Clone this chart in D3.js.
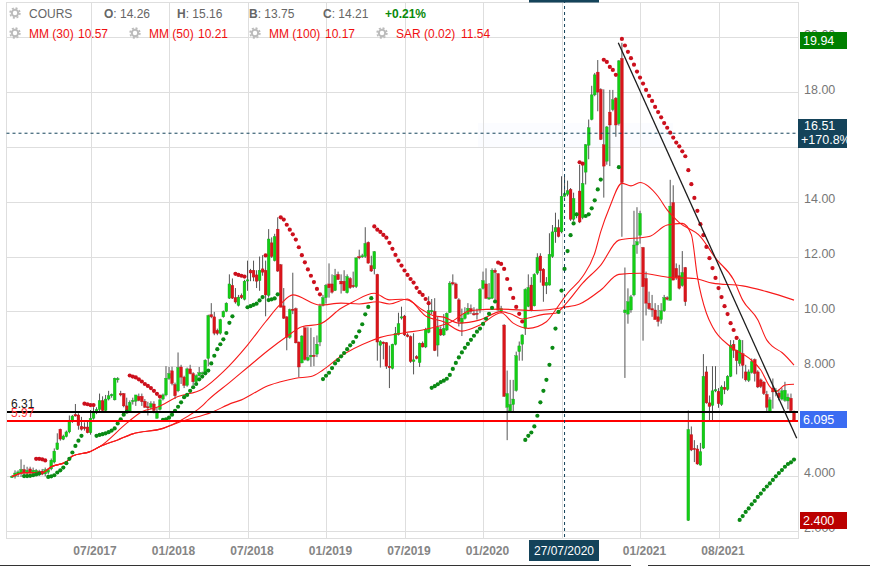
<!DOCTYPE html>
<html><head><meta charset="utf-8">
<script src="https://cdn.jsdelivr.net/npm/d3@7"></script>
<style>
html,body{margin:0;padding:0;background:#fff}
svg{display:block}
text{font-family:"Liberation Sans",Arial,sans-serif}
</style></head><body>
<svg id="c" width="870" height="566"></svg>
<script>
const opens=[3.96,3.98,4.06,4.1,4.23,4.1,4.25,4.1,4.1,4.16,
4.17,4.07,4.13,4.25,4.5,4.96,5.7,5.33,5.43,5.6,
5.97,6.24,6.22,5.8,5.78,5.78,5.57,6.1,6.3,6.42,
6.74,6.38,6.8,6.92,6.77,7.5,7.0,7.0,6.55,6.35,
6.72,6.72,6.9,6.9,6.72,6.52,6.5,6.62,6.1,6.42,
6.8,6.95,7.55,7.83,7.33,7.1,7.97,7.6,7.3,7.9,
7.73,7.43,7.65,7.72,7.71,8.28,9.88,9.8,9.31,9.2,
9.8,10.0,10.48,10.95,10.5,10.22,10.58,10.44,11.12,11.5,
11.5,11.33,11.12,11.55,11.5,10.58,12.5,11.85,13.0,11.7,
10.2,9.8,9.05,10.08,10.1,8.88,8.12,9.4,8.22,8.34,
8.4,8.44,8.88,10.22,10.5,11.0,11.0,10.76,11.35,11.1,
11.1,10.68,11.2,10.95,10.9,12.0,12.0,12.0,12.52,11.67,
11.55,11.35,8.76,8.88,8.86,8.0,7.92,8.8,9.15,9.77,
9.83,9.14,9.08,8.17,8.35,8.13,8.84,8.7,9.23,10.0,
10.0,8.77,9.35,9.14,9.32,9.96,11.05,11.0,10.42,9.57,
9.74,9.9,10.1,9.92,9.93,10.05,10.84,11.0,10.45,10.48,
11.5,11.37,10.0,9.5,6.5,6.37,6.6,7.11,8.53,8.8,
9.38,10.18,10.96,10.2,11.39,12.02,11.54,10.94,10.96,12.0,
12.9,13.05,12.9,14.2,14.27,14.45,13.36,13.5,14.39,13.42,
15.08,16.06,17.0,17.9,18.73,18.1,16.08,15.48,17.27,17.36,
17.78,16.85,19.23,9.95,9.9,10.05,10.6,12.42,12.78,12.33,
11.2,10.3,10.1,10.05,9.8,9.7,10.02,10.5,10.4,13.97,
11.57,11.3,10.94,11.6,2.37,5.5,5.0,4.98,4.39,5.01,
7.79,6.66,6.57,7.1,7.08,6.6,7.23,7.15,7.63,8.8,
8.58,8.1,8.46,7.79,7.48,7.77,8.24,7.79,7.5,7.42,
6.97,6.32,7.2,7.08,7.02,6.8,6.75,6.73,6.83,6.3];
const highs=[4.02,4.2,4.2,4.6,4.4,4.33,4.33,4.3,4.25,4.22,
4.25,4.3,4.27,4.63,5.0,5.55,5.72,5.5,5.65,6.2,
6.22,6.62,6.28,6.15,5.95,5.97,6.4,6.5,6.5,7.0,
6.9,6.95,7.1,7.0,7.58,7.6,7.1,7.02,6.85,6.75,
6.85,6.95,7.0,7.0,6.8,6.7,6.72,6.72,6.5,6.82,
7.0,8.0,7.97,7.98,7.4,8.5,8.05,7.65,7.95,8.05,
7.78,7.7,7.97,7.8,8.25,9.88,10.3,9.98,9.37,9.73,
10.03,10.33,11.35,11.2,10.85,10.6,10.65,11.15,11.85,11.55,
11.85,11.5,12.0,12.05,11.85,13.0,12.7,12.83,13.43,11.73,
10.85,9.82,10.1,11.41,10.14,8.9,9.13,9.42,9.42,9.4,
9.06,9.12,10.28,10.6,11.0,11.75,11.35,11.55,11.45,11.35,
11.5,11.35,11.25,11.45,11.97,12.25,12.1,13.07,12.55,12.03,
12.2,11.37,8.95,8.9,8.88,8.75,8.82,9.43,9.95,10.17,
9.87,9.2,9.12,9.2,8.4,8.86,8.9,9.4,10.55,10.45,
10.48,9.8,9.45,9.9,9.96,11.1,11.35,11.05,10.48,10.1,
10.15,10.3,10.25,10.15,10.1,10.85,11.45,11.57,11.03,11.57,
11.57,11.4,10.2,9.53,7.84,7.5,7.5,8.53,8.9,9.16,
10.84,11.35,11.25,11.39,12.12,12.12,11.58,11.25,12.85,13.15,
13.6,13.35,14.93,14.93,14.77,14.5,14.33,13.6,15.35,15.42,
16.1,17.0,18.23,18.7,19.17,18.14,18.1,16.76,18.08,18.08,
17.82,19.17,19.8,11.6,10.84,10.6,13.67,13.8,13.67,12.35,
11.45,10.72,10.6,10.3,10.23,10.3,10.6,10.55,14.8,14.6,
11.75,11.7,12.2,11.62,6.38,5.8,5.3,5.12,5.2,8.44,
8.0,6.93,8.0,8.0,7.2,7.3,7.45,7.67,8.95,8.95,
8.6,9.0,8.95,8.05,7.88,8.28,8.28,7.85,7.55,7.45,
7.1,6.87,7.55,7.2,7.15,7.2,7.43,7.0,7.0,6.38];
const lows=[3.92,3.9,3.96,3.96,4.05,3.98,4.08,4.02,4.02,4.0,
4.02,3.98,4.05,4.2,4.45,4.94,5.28,5.3,5.4,5.55,
5.93,6.16,5.68,5.65,5.65,5.55,5.5,6.05,6.25,6.35,
6.33,6.33,6.75,6.85,6.75,7.4,6.9,6.5,6.3,6.3,
6.6,6.55,6.72,6.55,6.48,6.2,6.42,6.28,6.08,6.38,
6.75,6.9,7.5,7.3,6.8,7.05,7.35,7.2,7.25,7.7,
7.3,7.38,7.62,7.68,7.68,8.0,9.75,9.13,9.13,9.15,
9.77,9.97,10.45,10.45,10.28,10.18,10.45,10.4,10.75,11.1,
11.1,10.85,10.75,11.3,9.82,10.5,11.95,11.82,11.44,10.15,
9.72,8.58,9.0,9.9,8.83,7.6,8.1,8.2,8.18,7.98,
8.0,8.33,8.73,10.18,10.28,10.5,10.65,10.74,11.15,10.65,
10.74,10.65,10.82,10.85,10.85,11.9,11.95,11.95,11.74,11.44,
11.35,8.2,7.95,8.25,7.9,7.2,7.88,8.76,9.12,9.7,
9.1,9.05,8.12,7.7,8.25,7.97,8.68,8.66,9.2,9.9,
8.55,8.35,9.1,9.1,9.28,9.94,10.95,10.45,9.45,9.1,
9.7,9.88,9.9,9.85,9.7,9.93,10.8,10.45,10.42,10.45,
10.3,10.0,9.93,6.88,5.3,6.33,6.35,7.07,8.2,8.2,
9.14,10.15,10.0,10.18,11.33,11.05,10.35,10.63,10.94,11.95,
12.5,12.7,12.85,14.15,14.2,13.3,13.3,13.4,13.22,13.36,
14.63,15.55,16.97,17.85,17.3,16.25,14.15,15.35,15.3,17.3,
16.37,16.78,12.72,7.57,9.55,9.95,10.55,12.1,12.47,8.93,
9.85,10.05,9.8,9.7,9.45,9.55,9.98,10.4,10.4,11.14,
11.15,10.8,10.9,10.2,2.35,4.9,4.5,4.4,4.37,4.98,
6.63,6.03,6.03,7.05,6.48,6.55,6.98,7.1,7.6,8.3,
7.7,8.0,7.55,7.44,7.42,7.73,7.44,7.2,7.2,6.95,
6.33,6.32,6.45,6.9,6.75,6.75,6.7,6.43,6.32,6.0];
const closes=[3.98,4.1,4.14,4.23,4.11,4.2,4.12,4.2,4.2,4.07,
4.06,4.22,4.23,4.57,4.9,5.2,5.34,5.45,5.6,5.97,
6.18,6.18,5.83,5.7,5.72,5.57,6.1,6.3,6.42,6.74,
6.38,6.8,6.92,6.97,7.56,7.55,6.95,6.55,6.35,6.68,
6.75,6.95,6.75,6.7,6.5,6.48,6.63,6.38,6.3,6.77,
6.95,7.56,7.73,7.37,6.92,7.95,7.6,7.3,7.9,7.73,
7.43,7.65,7.76,7.76,8.22,9.85,9.8,9.2,9.19,9.7,
10.0,10.3,11.0,10.48,10.34,10.52,10.5,11.1,11.15,11.4,
11.25,11.1,11.5,11.43,10.6,12.64,12.0,12.73,11.47,10.15,
9.75,9.05,10.06,10.03,8.85,7.97,9.1,8.24,8.32,8.4,
8.35,8.8,10.2,10.5,10.95,10.86,10.7,11.3,11.16,11.0,
10.76,11.27,10.86,10.9,11.95,11.95,12.03,12.48,11.76,11.47,
12.18,8.88,8.9,8.82,8.0,7.94,8.8,9.2,9.55,9.8,
9.14,9.08,8.17,8.23,8.28,8.84,8.7,9.35,10.03,10.03,
8.57,9.42,9.14,9.38,9.93,11.03,11.0,10.48,9.63,9.75,
9.93,10.11,10.0,9.87,9.9,10.8,11.12,10.48,10.5,11.5,
11.42,10.05,10.1,6.9,7.0,6.6,6.8,8.38,8.74,9.14,
10.8,10.87,10.05,11.35,11.97,11.48,10.94,11.06,12.08,12.9,
13.05,12.73,14.2,14.3,14.4,13.36,14.12,13.55,13.26,14.67,
16.08,16.7,17.9,18.63,18.0,16.27,15.3,16.73,16.8,17.72,
16.8,19.14,14.7,10.05,10.35,10.53,12.42,12.54,13.57,10.9,
10.3,10.1,10.05,9.7,9.63,10.02,10.5,10.44,13.84,11.14,
11.24,10.84,11.42,10.35,5.69,4.94,4.97,4.43,4.88,7.63,
6.66,6.53,7.1,7.14,6.63,7.24,7.15,7.63,8.77,8.58,
8.2,8.95,8.03,7.5,7.79,8.16,7.73,7.24,7.26,7.0,
6.5,6.77,7.06,7.12,6.85,7.1,7.12,6.87,6.38,6.04];

// moving averages: [week index, price]
const mm30=[[0,3.97],[4,4.11],[10,4.11],[13,4.33],[18,4.51],[20,4.72],[26,4.89],[29,5.06],[38,5.92],[43,6.34],[48,6.5],[55,6.89],[63,7.16],[70,7.8],[78,8.77],[84,9.62],[89,10.27],[93,10.6],[102,10.23],[109,10.3],[115,10.27],[121,10.35],[125,10.27],[131,10.45],[135,10.05],[137,9.83],[143,9.62],[149,9.28],[155,9.5],[162,9.95],[166,9.57],[171,9.38],[177,9.62],[180,10.05],[184,10.66],[189,11.27],[193,12.12],[195,12.91],[198,13.82],[202,14.67],[205,14.58],[208,14.7],[214,14.19],[217,13.7],[221,13.24],[228,12.73],[233,11.94],[239,11.15],[242,10.41],[247,9.69],[250,8.95],[252,8.71],[255,8.5],[259,8.04]];
const mm50=[[0,3.97],[4,4.11],[10,4.11],[13,4.33],[18,4.51],[20,4.72],[26,4.89],[29,5.06],[35,5.31],[40,5.53],[50,5.73],[56,6.03],[63,6.55],[65,6.77],[72,7.4],[78,7.95],[85,8.59],[91,9.08],[96,9.44],[102,9.54],[109,10.11],[113,10.35],[120,10.66],[125,10.42],[129,10.44],[131,10.42],[136,10.05],[140,9.83],[143,9.79],[148,9.57],[155,9.69],[162,9.99],[166,9.87],[169,9.72],[176,9.89],[180,9.93],[184,10.35],[189,11.03],[195,11.69],[201,12.6],[211,12.73],[217,13.15],[222,13.21],[225,12.8],[227,11.27],[230,9.93],[232,9.44],[238,8.71],[244,8.3],[248,7.86],[251,7.25],[253,7.07],[256,7.31],[259,7.34]];
const mm100=[[0,3.97],[4,4.11],[10,4.11],[13,4.33],[18,4.51],[20,4.72],[26,4.89],[29,5.06],[35,5.31],[40,5.53],[50,5.73],[56,5.98],[66,6.31],[73,6.66],[76,6.77],[81,7.07],[84,7.25],[89,7.43],[94,7.56],[99,7.62],[103,7.86],[109,8.37],[119,8.93],[122,9.05],[130,9.22],[136,9.32],[145,9.59],[152,10.03],[162,10.08],[173,10.03],[183,10.15],[188,10.27],[195,10.78],[201,11.35],[208,11.39],[218,11.24],[226,11.2],[232,11.03],[242,10.93],[250,10.72],[259,10.41]];

// parabolic SAR runs: [first week index, prices]
const sarGreen=[[4,[3.99,3.99,4.0,4.02,4.05,4.08]],
[12,[3.96,3.98,4.02,4.12,4.2,4.3,4.46,4.62,4.85,5.09,5.28,5.46]],
[28,[5.46,5.49,5.52,5.55,5.59,5.65,5.73,5.91,6.06,6.23,6.34]],
[50,[6.04,6.06,6.12,6.23,6.37,6.52,6.68,6.87,6.95,7.1,7.23,7.35,7.52,7.62,7.74,7.84,8.1,8.38,8.62,8.8,8.98,9.21,9.58,9.82]],
[78,[10.15,10.19,10.24,10.28,10.4,10.52]],
[85,[10.41,10.44,10.47,10.62]],
[103,[7.53,7.65,7.76,7.93,8.1,8.22,8.36,8.48,8.62,8.76,8.88,9.07,9.27,9.53,9.89,10.16,10.48]],
[139,[7.21,7.27,7.34,7.42,7.47,7.54,7.68,7.9,8.12,8.32,8.5,8.67,8.81,8.96,9.11,9.26,9.37,9.54,9.73,9.91,10.13,10.36]],
[170,[5.31,5.46,5.58,5.8,6.19,6.68,7.1,7.5,8.05,8.67,9.37,9.98,10.76,11.55,12.2,12.78,13.21,13.54]],
[190,[13.48,13.54,13.76,14.05,14.45,14.81]],
[201,[15.26]],
[241,[2.39,2.53,2.68,2.81,2.96,3.08,3.23,3.35,3.49,3.61,3.72,3.85,3.98,4.1,4.21,4.33,4.43,4.49,4.59]]];
const sarRed=[[8,[4.62,4.62,4.6,4.56]],
[24,[6.63,6.61,6.58,6.58]],
[39,[7.66,7.62,7.59,7.52,7.44,7.35,7.28,7.2,7.1,6.99,6.89]],
[74,[11.37,11.33,11.3,11.27]],
[84,[12.04]],
[89,[13.43,13.35,13.16,12.98,12.81,12.62,12.34,12.05,11.79,11.53,11.3,11.07,10.82,10.62]],
[120,[13.1,12.98,12.9,12.79,12.69,12.5,12.28,12.06,11.85,11.67,11.49,11.33,11.18,11.05,10.86,10.7,10.6,10.45,10.3]],
[161,[11.78,11.73,11.55,11.18,10.82,10.49,10.16,9.91,9.63]],
[188,[15.44,15.39]],
[196,[19.18,19.1,18.92,18.81,18.63]],
[202,[19.94,19.7,19.47,19.24,19.0,18.75,18.53,18.31,18.08,17.86,17.68,17.46,17.27,17.08,16.87,16.7,16.52,16.34,16.16,16.02,15.84,15.66,15.15,14.64,14.14,13.67,13.18,12.78,12.35,11.94,11.58,11.22,10.85,10.52,10.19,9.9,9.57,9.32,9.03]]];

const trendLine=[[200.8,19.8],[259.9,5.37]];
const level631=6.34, level597=6.0, crossPrice=16.5, crossWeek=183;
const xTickWeeks=[26,52,78,104,130,156,208,234];
const xTickLabels=["07/2017","01/2018","07/2018","01/2019","07/2019","01/2020","01/2021","08/2021"];
const gridWeeks=[26,52,78,104,130,156,182,208,234];
const yTicks=[2,4,6,8,10,12,14,16,18,20];
const yTickLabels=["2.000","4.000","6.000","8.000","10.00","12.00","14.00","16.00","18.00","20.00"];
const chips=[{t:"19.94",c:"#008000",py:32},{t:"6.095",c:"#3b6cf2",py:411},{t:"2.400",c:"#bb0000",py:512}];

const plotL=6.5,plotR=798,plotT=2.5,plotB=538;
const x=d3.scaleLinear().domain([0,259]).range([12,794]);
const y=d3.scaleLinear().domain([2,20]).range([530.6,37.3]);
const svg=d3.select("#c");

// faint ghost band behind the crosshair
svg.append("rect").attr("x",478).attr("y",123).attr("width",195).attr("height",24).attr("fill","#fbfcff");

// grid and frame
const gy=svg.append("g").attr("transform",`translate(${plotL},0)`)
  .call(d3.axisRight(y).tickValues(yTicks).tickSize(plotR-plotL).tickFormat(""));
gy.select(".domain").remove();
gy.selectAll("line").attr("stroke","#dedede");
gy.attr("shape-rendering","crispEdges");
const gx=svg.append("g").attr("transform",`translate(0,${plotB})`)
  .call(d3.axisTop(x).tickValues(gridWeeks).tickSize(plotB-plotT).tickFormat(""));
gx.select(".domain").remove();
gx.selectAll("line").attr("stroke","#dedede");
gx.attr("shape-rendering","crispEdges");
svg.append("path").attr("d",`M${plotL},${plotT}H${plotR}V${plotB}H${plotL}Z`).attr("fill","none").attr("stroke","#dedede").attr("shape-rendering","crispEdges");

// y labels
const ya=svg.append("g").attr("transform",`translate(804,0)`)
  .call(d3.axisRight(y).tickValues(yTicks).tickSize(0).tickPadding(0).tickFormat((d,i)=>yTickLabels[i]));
ya.select(".domain").remove();
ya.selectAll("text").attr("font-size",12.5).attr("fill","#777").attr("font-family","Liberation Sans").attr("text-anchor","start").attr("dy",null).attr("y",1);

// x labels
const xa=svg.append("g").attr("transform",`translate(4,555)`)
  .call(d3.axisBottom(x).tickValues(xTickWeeks).tickSize(0).tickPadding(0).tickFormat((d,i)=>xTickLabels[i]));
xa.select(".domain").remove();
xa.selectAll("text").attr("font-size",12).attr("font-weight","bold").attr("fill","#858585").attr("font-family","Liberation Sans").attr("dy",null).attr("y",0);

// candles
const idx=d3.range(opens.length);
const gc=svg.append("g");
gc.selectAll("line").data(idx).join("line")
  .attr("x1",i=>x(i)).attr("x2",i=>x(i)).attr("y1",i=>y(highs[i])).attr("y2",i=>y(lows[i]))
  .attr("stroke","#555").attr("stroke-width",1);
gc.selectAll("rect").data(idx).join("rect")
  .attr("x",i=>x(i)-1.4).attr("width",2.8)
  .attr("y",i=>y(Math.max(opens[i],closes[i])))
  .attr("height",i=>Math.max(1.2,Math.abs(y(opens[i])-y(closes[i]))))
  .attr("fill",i=>closes[i]>=opens[i]?"#14cf14":"#d9151b")
  .attr("stroke",i=>closes[i]>=opens[i]?"#1a9a2a":"#b8141a").attr("stroke-width",0.35);

// moving averages
const lineGen=d3.line().x(d=>x(d[0])).y(d=>y(d[1])).curve(d3.curveMonotoneX);
[mm100,mm50,mm30].forEach(s=>svg.append("path").attr("d",lineGen(s)).attr("fill","none").attr("stroke","#f71a1a").attr("stroke-width",1.1));

// SAR
function dots(runs,color){
  const pts=runs.flatMap(r=>r[1].map((v,k)=>[r[0]+k,v]));
  svg.append("g").selectAll("circle").data(pts).join("circle")
    .attr("cx",d=>x(d[0])).attr("cy",d=>y(d[1])).attr("r",2.1).attr("fill",color);
}
dots(sarGreen,"#0a8a14");
dots(sarRed,"#cc0f1c");

// horizontal levels and trend line
svg.append("line").attr("x1",plotL).attr("x2",plotR).attr("y1",y(level631)).attr("y2",y(level631)).attr("stroke","#000").attr("stroke-width",2).attr("shape-rendering","crispEdges");
svg.append("line").attr("x1",plotL).attr("x2",plotR).attr("y1",y(level597)).attr("y2",y(level597)).attr("stroke","#f00").attr("stroke-width",2).attr("shape-rendering","crispEdges");
svg.append("path").attr("d",d3.line().x(d=>x(d[0])).y(d=>y(d[1]))(trendLine)).attr("fill","none").attr("stroke","#1c1c1c").attr("stroke-width",1.3);
svg.append("text").attr("x",11).attr("y",408).attr("font-size",12).attr("fill","#222").text("6.31");
svg.append("text").attr("x",11).attr("y",417).attr("font-size",12).attr("fill","#f33").text("5.97");

// crosshair
const navy="#14435a";
svg.append("line").attr("x1",plotL).attr("x2",plotR).attr("y1",y(crossPrice)).attr("y2",y(crossPrice)).attr("stroke",navy).attr("stroke-dasharray","3,3");
svg.append("line").attr("x1",x(crossWeek)).attr("x2",x(crossWeek)).attr("y1",0).attr("y2",plotB).attr("stroke",navy).attr("stroke-dasharray","3,3");
svg.append("rect").attr("x",529).attr("y",0).attr("width",70).attr("height",2.5).attr("fill",navy);
svg.append("rect").attr("x",529).attr("y",540).attr("width",70).attr("height",21).attr("fill",navy);
svg.append("text").attr("x",564).attr("y",555).attr("text-anchor","middle").attr("font-size",12).attr("fill","#fff").text("27/07/2020");
svg.append("rect").attr("x",798).attr("y",119).attr("width",49).attr("height",29).attr("fill",navy);
svg.append("text").attr("x",804).attr("y",130).attr("font-size",12.5).attr("fill","#fff").text("16.51");
svg.append("text").attr("x",801).attr("y",143.5).attr("font-size",12.5).attr("fill","#fff").text("+170.8%");

// value chips
chips.forEach(c=>{
  svg.append("rect").attr("x",800).attr("y",c.py).attr("width",47).attr("height",17).attr("fill",c.c);
  svg.append("text").attr("x",803).attr("y",c.py+13).attr("font-size",12.5).attr("fill","#fff").text(c.t);
});

// bottom rule
svg.append("rect").attr("x",0).attr("y",565).attr("width",631).attr("height",1).attr("fill","#333");
svg.append("rect").attr("x",648).attr("y",565).attr("width",222).attr("height",1).attr("fill","#333");

// header
function gear(cx,cy){
  const g=svg.append("g").attr("transform",`translate(${cx},${cy})`);
  g.append("circle").attr("r",3.2).attr("fill","none").attr("stroke","#bbb").attr("stroke-width",2);
  g.append("circle").attr("r",4.9).attr("fill","none").attr("stroke","#bbb").attr("stroke-width",1.6).attr("stroke-dasharray","2,1.85");
}
[[15,13],[15,33],[135,33],[255,33],[382,33]].forEach(p=>gear(p[0],p[1]));
const tx=(a,b,s,f,w)=>svg.append("text").attr("x",a).attr("y",b).attr("font-size",12).attr("fill",f).attr("font-weight",w||null).text(s);
tx(29,18,"COURS","#666");
[[104,"O",": 14.26"],[177,"H",": 15.16"],[249,"B",": 13.75"],[323,"C",": 14.21"]].forEach(d=>{
  const t=tx(d[0],18,"","#666");
  t.append("tspan").attr("font-weight","bold").text(d[1]);
  t.append("tspan").text(d[2]);
});
tx(385,18,"+0.21%","#0a8a0a","bold");
[[29,"MM (30)"],[78,"10.57"],[149,"MM (50)"],[198,"10.21"],[269,"MM (100)"],[325,"10.17"],[396,"SAR (0.02)"],[461,"11.54"]].forEach(d=>tx(d[0],38,d[1],"#f01010"));
</script>
</body></html>
